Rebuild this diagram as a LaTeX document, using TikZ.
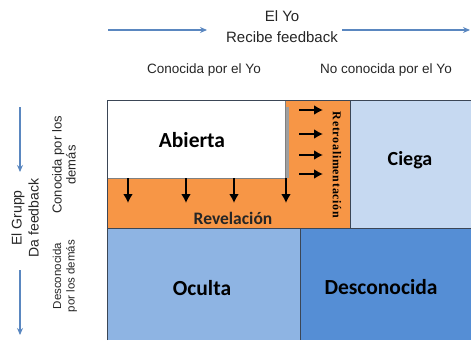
\documentclass[tikz,border=0pt]{standalone}
\usepackage{fontspec}
\setmainfont{Liberation Sans}
\newfontfamily\calibri{Carlito}
\newfontfamily\retrofont[LetterSpace=6]{Liberation Serif}
\usetikzlibrary{arrows.meta}
\definecolor{naranja}{HTML}{F79646}
\definecolor{ciegacol}{HTML}{C6D9F1}
\definecolor{ocultacol}{HTML}{8EB4E3}
\definecolor{desconcol}{HTML}{558ED5}
\definecolor{bordecol}{HTML}{3B4656}
\definecolor{azulflecha}{HTML}{5A87C0}
\definecolor{textocol}{HTML}{262626}

\begin{document}
\begin{tikzpicture}[x=1pt,y=-1pt,
      every node/.style={inner sep=0pt,align=center,text=textocol},
      etiqueta/.style={font=\fontsize{13.5}{16}\selectfont},
      zona/.style={font=\calibri\bfseries\fontsize{21.5}{24}\selectfont,text=black},
      borde/.style={draw=bordecol,line width=0.8pt},
      flecha/.style={-{Latex[length=9pt,width=10pt]},line width=2.6pt},
      guia/.style={-{Stealth[length=7pt,width=6pt]},draw=azulflecha,line width=1.6pt}]
    \useasboundingbox (0,0) rectangle (471,340);
    % cuadrantes
    \fill[ciegacol] (350,100) rectangle (471,228);
    \fill[ocultacol] (107,228) rectangle (300,340);
    \fill[desconcol] (300,228) rectangle (471,340);
    \fill[naranja] (107,100) rectangle (350,228);
    \fill[gray!75] (285,107) rectangle (289,178);
    \fill[white] (107,100) rectangle (285,178);
    \draw[borde,draw=gray] (107,100) rectangle (285,178);
    \draw[borde] (107,340) -- (107,100) -- (471,100);
    \draw[borde] (107,228) -- (471,228);
    \draw[borde] (350,100) -- (350,228);
    \draw[borde] (300,228) -- (300,340);
    % nombres de las zonas
    \node[zona] (abierta) at (192,140) {Abierta};
    \node[zona,font=\calibri\bfseries\fontsize{20}{24}\selectfont] (ciega) at (410,160) {Ciega};
    \node[zona] (oculta) at (202,288) {Oculta};
    \node[zona] (desconocida) at (381,287) {Desconocida};
    \node[font=\calibri\bfseries\fontsize{17.5}{20}\selectfont] (revelacion) at (233,218) {Revelación};
    \node[rotate=-90,font=\retrofont\bfseries\fontsize{12}{14}\selectfont,text=black] (retro) at (337,165) {Retroalimentación};
    % flechas negras
    \foreach \x in {128,186,234,286}
      \draw[flecha] (\x,178) -- (\x,203);
    \foreach \y in {110,134,155,174}
      \draw[flecha] (299,\y) -- (323,\y);
    % encabezados
    \node[etiqueta,font=\fontsize{15}{21}\selectfont] (yo) at (282,27) {El Yo\\Recibe feedback};
    \node[etiqueta] (conocidaYo) at (204,70) {Conocida por el Yo};
    \node[etiqueta] (noConocidaYo) at (386,70) {No conocida por el Yo};
    \node[rotate=90,font=\fontsize{14}{17}\selectfont] (grupo) at (25,218) {El Grupp\\Da feedback};
    \node[rotate=90,font=\fontsize{13}{14}\selectfont] (conocidaDemas) at (64,165) {Conocida por los\\demás};
    \node[rotate=90,font=\fontsize{11.5}{13.5}\selectfont] (desconocidaDemas) at (65,276) {Desconocida\\por los demás};
    % flechas azules
    \coordinate (yoIni) at (108,30);
    \coordinate (yoFin) at (207,30);
    \coordinate (yoIni2) at (342,30);
    \coordinate (yoFin2) at (470,30);
    \coordinate (grIni) at (20,107);
    \coordinate (grFin) at (20,172);
    \coordinate (grIni2) at (20,270);
    \coordinate (grFin2) at (20,335);
    \draw[guia] (yoIni) -- (yoFin);
    \draw[guia] (yoIni2) -- (yoFin2);
    \draw[guia] (grIni) -- (grFin);
    \draw[guia] (grIni2) -- (grFin2);
  \end{tikzpicture}
\end{document}
